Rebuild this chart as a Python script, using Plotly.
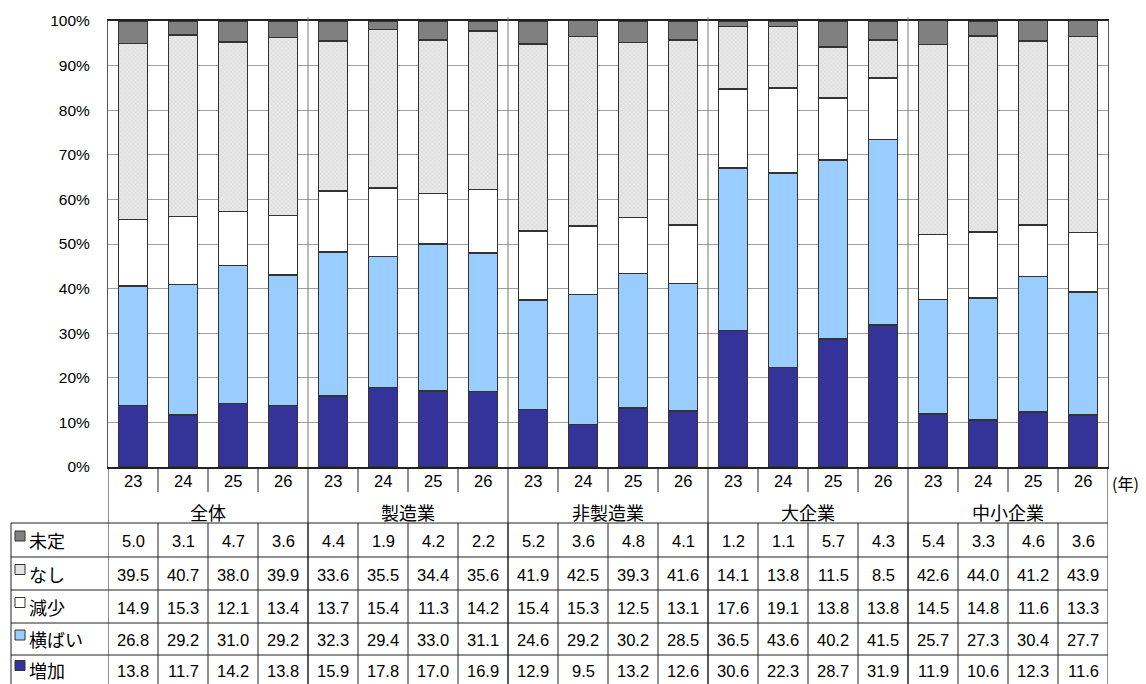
import plotly.graph_objects as go

# Survey results: share of responses by year and respondent segment (%)
groups = ["全体", "製造業", "非製造業", "大企業", "中小企業"]
years = ["23", "24", "25", "26"]
y_ticks = list(range(0, 101, 10))
y_tick_labels = [f"{t}%" for t in y_ticks]

series_names = ["増加", "横ばい", "減少", "なし", "未定"]
zouka = [13.8, 11.7, 14.2, 13.8, 15.9, 17.8, 17.0, 16.9, 12.9, 9.5, 13.2, 12.6,
         30.6, 22.3, 28.7, 31.9, 11.9, 10.6, 12.3, 11.6]
yokobai = [26.8, 29.2, 31.0, 29.2, 32.3, 29.4, 33.0, 31.1, 24.6, 29.2, 30.2, 28.5,
           36.5, 43.6, 40.2, 41.5, 25.7, 27.3, 30.4, 27.7]
genshou = [14.9, 15.3, 12.1, 13.4, 13.7, 15.4, 11.3, 14.2, 15.4, 15.3, 12.5, 13.1,
           17.6, 19.1, 13.8, 13.8, 14.5, 14.8, 11.6, 13.3]
nashi = [39.5, 40.7, 38.0, 39.9, 33.6, 35.5, 34.4, 35.6, 41.9, 42.5, 39.3, 41.6,
         14.1, 13.8, 11.5, 8.5, 42.6, 44.0, 41.2, 43.9]
mitei = [5.0, 3.1, 4.7, 3.6, 4.4, 1.9, 4.2, 2.2, 5.2, 3.6, 4.8, 4.1,
         1.2, 1.1, 5.7, 4.3, 5.4, 3.3, 4.6, 3.6]

series_values = [zouka, yokobai, genshou, nashi, mitei]
series_colors = ["#333399", "#99CCFF", "#FFFFFF", "#E4E4E4", "#808080"]

JP = "Noto Sans CJK JP, sans-serif"
NUM = "Liberation Sans, Arial, sans-serif"

n = len(groups) * len(years)
xs = list(range(n))

fig = go.Figure()
for name, vals, col in zip(series_names, series_values, series_colors):
    marker = dict(color=col, line=dict(color="#333333", width=1.6))
    if name == "なし":
        marker["pattern"] = dict(shape="x", size=3, solidity=0.25,
                                 fgcolor="#D0D0D0", bgcolor="#E8E8E8", fillmode="replace")
    fig.add_trace(go.Bar(x=xs, y=vals, name=name, marker=marker, width=0.58,
                         showlegend=False, hoverinfo="skip"))

# Pixel geometry of the chart area
W, H = 1146, 684
L, R, T, B = 108, 38, 21, 217
plot_h = H - T - B
def py(p):
    # pixel row -> paper y
    return (H - B - p) / plot_h
def px(p):
    # pixel column -> paper x
    return (p - L) / (W - L - R)

shapes = []
annotations = []
line_dark = dict(color="#222222", width=1)

def label(x, y, text, font, xref="x", xanchor="center"):
    annotations.append(dict(x=x, y=y, xref=xref, yref="paper", text=text,
                            showarrow=False, xanchor=xanchor, yanchor="middle",
                            font=font))

# Group separators inside the plot
for g in range(1, len(groups)):
    xb = g * len(years) - 0.5
    shapes.append(dict(type="line", xref="x", yref="paper", x0=xb, x1=xb,
                       y0=0, y1=py(17), line=dict(color="#777777", width=1)))

# Table geometry (pixel rows)
year_y = 481
year_sep_bottom = 492
group_y = 512
row_edges = [523, 557, 590, 623, 655, 684]
left_edge = px(11)

num_font = dict(family=NUM, size=16.5, color="#000")
jp_font = dict(family=JP, size=18, color="#000")

# Year row and group row
for i in xs:
    label(i, py(year_y), years[i % len(years)], num_font)
for k in range(1, n):
    if k % len(years) == 0:
        continue
    shapes.append(dict(type="line", xref="x", yref="paper", x0=k - 0.5, x1=k - 0.5,
                       y0=py(H - B), y1=py(year_sep_bottom), line=line_dark))
for g, gname in enumerate(groups):
    label(g * len(years) + 1.5, py(group_y), gname, jp_font)
for g in range(len(groups) + 1):
    xb = g * len(years) - 0.5
    shapes.append(dict(type="line", xref="x", yref="paper", x0=xb, x1=xb,
                       y0=py(H - B), y1=py(row_edges[-1] + 4), line=line_dark))

label(px(1110), py(483), "(年)", dict(family=JP, size=16, color="#000"),
      xref="paper", xanchor="left")

# Data table: top row is 未定, bottom row is 増加
table_rows = list(zip(series_names, series_values, series_colors))[::-1]
for r, (name, vals, col) in enumerate(table_rows):
    y0p, y1p = row_edges[r], row_edges[r + 1]
    yc = (y0p + y1p) / 2
    for i, v in enumerate(vals):
        label(i, py(yc + 1), f"{v:.1f}", num_font)
    # legend key
    shapes.append(dict(type="rect", xref="paper", yref="paper",
                       x0=px(15), x1=px(25), y0=py(yc + 1), y1=py(yc - 9),
                       fillcolor=col, line=dict(color="#333333", width=1)))
    label(px(27), py(yc), name, jp_font, xref="paper", xanchor="left")

for yy in row_edges[:-1]:
    shapes.append(dict(type="line", xref="paper", yref="paper", x0=left_edge, x1=1,
                       y0=py(yy), y1=py(yy), line=line_dark))
for k in range(1, n):
    shapes.append(dict(type="line", xref="x", yref="paper", x0=k - 0.5, x1=k - 0.5,
                       y0=py(row_edges[0]), y1=py(row_edges[-1] + 4), line=line_dark))
shapes.append(dict(type="line", xref="paper", yref="paper", x0=left_edge, x1=left_edge,
                   y0=py(row_edges[0]), y1=py(row_edges[-1] + 4), line=line_dark))

fig.update_layout(
    width=W, height=H,
    margin=dict(l=L, r=R, t=T, b=B),
    barmode="stack",
    bargap=0.42,
    plot_bgcolor="#FFFFFF",
    paper_bgcolor="#FFFFFF",
    shapes=shapes,
    annotations=annotations,
    xaxis=dict(range=[-0.5, n - 0.5], showticklabels=False, showgrid=False,
               zeroline=False, showline=True, linecolor="#222222", linewidth=1.5,
               mirror=True, ticks=""),
    yaxis=dict(range=[0, 100], tickvals=y_ticks, ticktext=y_tick_labels,
               showgrid=True, gridcolor="#A0A0A0", gridwidth=1, zeroline=False,
               showline=True, linecolor="#555555", linewidth=1, mirror=True,
               ticks="", ticklabelstandoff=14,
               tickfont=dict(family=NUM, size=15.5, color="#000")),
)

fig.write_html("out.html")
